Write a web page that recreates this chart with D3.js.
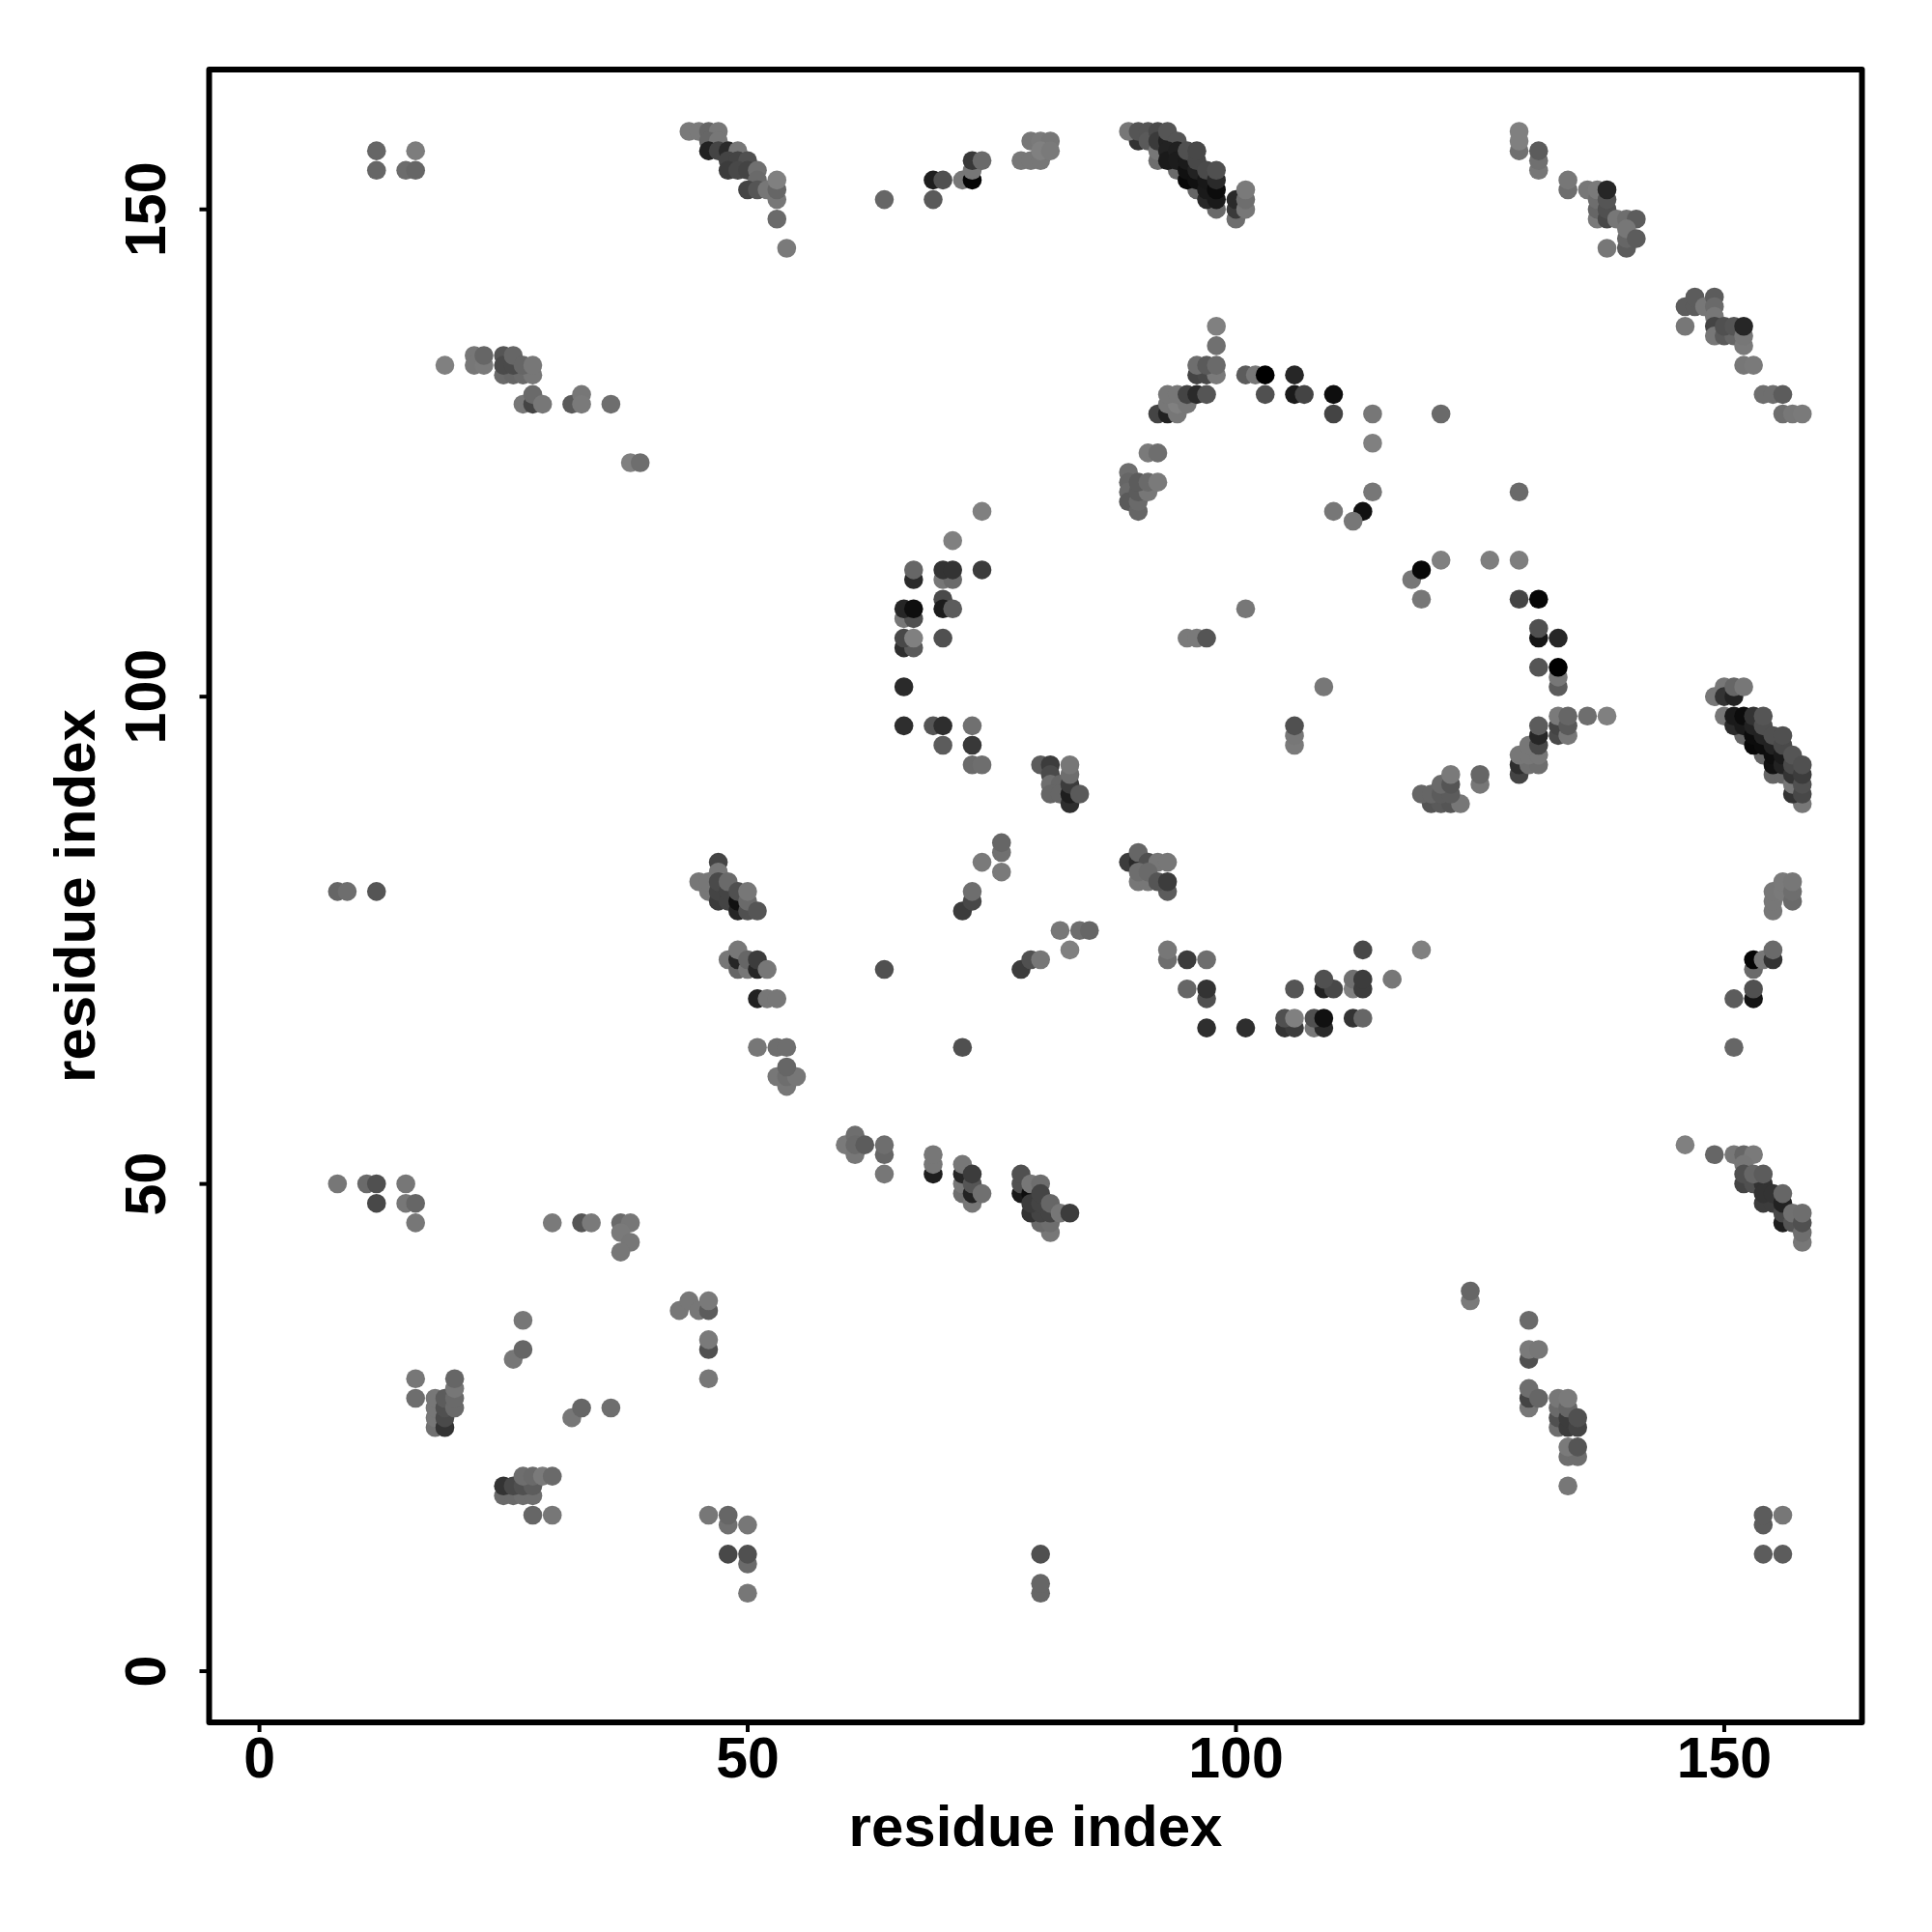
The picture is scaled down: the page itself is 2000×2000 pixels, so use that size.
<!DOCTYPE html>
<html><head><meta charset="utf-8"><style>html,body{margin:0;background:#fff}svg{display:block}text{font-family:"Liberation Sans",Arial,sans-serif;font-weight:bold;fill:#000}</style>
<script src="https://cdn.jsdelivr.net/npm/d3@7/dist/d3.min.js"></script></head><body><svg id="c" width="2000" height="2000"></svg>
<script>
const xTicks=[0,50,100,150], yTicks=[0,50,100,150], axisTitle="residue index";
// each contact: [residue i, residue j, grey level]
const topLeft=[[12,156,0x66],[16,156,0x7d],[12,154,0x66],[15,154,0x6c],[16,154,0x66]];
const strandA=[[44,158,0x7a],[45,158,0x7a],[46,158,0x66],[47,158,0x77],[46,157,0x66],[47,157,0x77],[46,156,0x22],[47,156,0x44],[48,156,0x2a],[49,156,0x77],[48,155,0x44],[49,155,0x44],[50,155,0x50],[48,154,0x3c],[49,154,0x48],[50,154,0x44],[51,154,0x70],[51,153,0x6a],[50,152,0x44],[51,152,0x55],[52,152,0x77],[53,151,0x77],[53,152,0x66],[53,153,0x80],[53,149,0x6a],[54,146,0x7a]];
const helixA=[[19,134,0x80],[22,135,0x77],[22,134,0x77],[23,134,0x7a],[23,135,0x66],[25,133,0x6a],[26,133,0x66],[27,133,0x6a],[28,133,0x77],[25,135,0x55],[25,134,0x4a],[26,134,0x4a],[26,135,0x66],[27,134,0x66],[28,134,0x77],[27,130,0x77],[28,130,0x44],[28,131,0x6a],[29,130,0x77],[32,130,0x5a],[33,131,0x77],[33,130,0x7a],[36,130,0x6e],[38,124,0x80],[39,124,0x6e]];
const topMiddle=[[64,151,0x66],[69,151,0x5a],[69,153,0x1e],[70,153,0x50],[72,153,0x77],[73,153,0x05],[73,154,0x77],[73,155,0x38],[74,155,0x6a],[78,155,0x77],[79,155,0x77],[80,155,0x77],[79,157,0x77],[80,157,0x7a],[81,157,0x77],[80,156,0x80],[81,156,0x7a]];
const strandB=[[90,157,0x33],[89,158,0x77],[90,158,0x55],[91,158,0x55],[91,157,0x5a],[92,155,0x6e],[92,156,0x77],[92,158,0x4a],[92,157,0x3a],[93,157,0x22],[93,158,0x55],[94,154,0x6a],[94,157,0x55],[93,156,0x22],[93,155,0x1a],[94,156,0x20],[94,155,0x1c],[96,152,0x66],[95,153,0x08],[95,154,0x11],[95,155,0x1a],[95,156,0x50],[96,153,0x11],[96,154,0x22],[96,155,0x48],[96,156,0x48],[98,150,0x6a],[97,151,0x28],[97,152,0x1a],[97,153,0x18],[97,154,0x4a],[98,151,0x1a],[98,152,0x0c],[98,153,0x2a],[98,154,0x50],[100,149,0x6e],[100,150,0x3a],[100,151,0x2a],[101,150,0x77],[101,151,0x6e],[101,152,0x7a]];
const ringTop=[[98,138,0x80],[98,136,0x70],[96,133,0x44],[97,133,0x48],[98,133,0x7a],[96,134,0x6e],[97,134,0x5a],[98,134,0x6a],[101,133,0x5c],[102,133,0x77],[103,133,0x00],[106,133,0x26],[103,131,0x50],[106,131,0x1a],[107,131,0x44],[110,131,0x0e],[110,129,0x44],[114,129,0x77],[114,126,0x80],[121,129,0x6a],[114,121,0x77],[113,119,0x11],[112,118,0x77],[110,119,0x77],[129,121,0x6a],[92,129,0x44],[93,129,0x22],[94,129,0x77],[93,130,0x77],[94,130,0x80],[95,130,0x77],[93,131,0x77],[94,131,0x77],[95,131,0x44],[96,131,0x2a],[97,131,0x55],[91,125,0x7a],[92,125,0x6e]];
const ringLeft=[[89,123,0x6e],[89,122,0x66],[89,121,0x6a],[89,120,0x5a],[90,119,0x66],[90,120,0x6a],[90,121,0x5c],[91,121,0x77],[90,122,0x5c],[91,122,0x6a],[92,122,0x7a],[74,119,0x80],[71,116,0x80],[67,112,0x2a],[67,113,0x66],[70,112,0x77],[71,112,0x6a],[70,113,0x33],[71,113,0x33],[74,113,0x3c],[70,110,0x4a],[70,109,0x1c],[71,109,0x5c],[66,108,0x77],[67,108,0x50],[66,109,0x26],[67,109,0x0e],[66,105,0x2e],[67,105,0x5a],[66,106,0x48],[67,106,0x80],[70,106,0x50],[66,101,0x2a],[66,97,0x2e],[69,97,0x55],[70,97,0x2e],[73,97,0x70],[70,95,0x5c],[73,95,0x38],[73,93,0x6a],[74,93,0x6e],[101,109,0x77],[95,106,0x7a],[96,106,0x7a],[97,106,0x55],[109,101,0x77],[106,95,0x7a],[106,96,0x77],[106,97,0x50]];
const ringLower=[[80,93,0x5c],[81,93,0x3c],[81,92,0x4a],[81,91,0x6e],[82,91,0x66],[81,90,0x66],[82,90,0x66],[83,89,0x2e],[83,90,0x1e],[83,91,0x3c],[83,92,0x6e],[83,93,0x77],[84,90,0x5a]];
const ringRight=[[121,114,0x80],[118,112,0x77],[119,113,0x08],[119,110,0x77],[126,114,0x7e],[129,114,0x7e],[129,110,0x44],[131,110,0x06],[131,106,0x14],[131,107,0x50],[133,106,0x26],[131,103,0x55],[133,101,0x5c],[133,102,0x77],[133,103,0x00],[133,96,0x4a],[133,97,0x44],[133,98,0x7a],[134,96,0x77],[134,97,0x5a],[134,98,0x66],[136,98,0x6e],[138,98,0x80],[129,92,0x44],[129,93,0x2e],[130,93,0x70],[131,93,0x6e],[129,94,0x77],[130,94,0x77],[131,94,0x77],[130,95,0x77],[131,95,0x48],[131,96,0x26],[131,97,0x5c],[125,91,0x77],[125,92,0x66],[120,89,0x55],[121,89,0x5a],[122,89,0x55],[123,89,0x77],[119,90,0x66],[120,90,0x66],[121,90,0x5c],[122,90,0x5c],[121,91,0x6a],[122,91,0x55],[122,92,0x7a]];
const strandC=[[149,100,0x77],[150,101,0x77],[150,100,0x33],[151,100,0x22],[151,101,0x66],[152,101,0x77],[150,98,0x77],[152,96,0x66],[151,97,0x2a],[151,98,0x1a],[152,97,0x1a],[152,98,0x0c],[154,94,0x66],[153,95,0x08],[153,96,0x0c],[153,97,0x22],[153,98,0x33],[154,95,0x0c],[154,96,0x22],[154,97,0x50],[154,98,0x55],[155,92,0x66],[156,92,0x66],[155,93,0x11],[155,94,0x0e],[155,95,0x22],[155,96,0x50],[156,93,0x22],[156,94,0x1a],[156,95,0x4a],[156,96,0x50],[158,89,0x77],[157,90,0x33],[157,91,0x77],[157,92,0x33],[157,93,0x4a],[157,94,0x55],[158,90,0x48],[158,91,0x50],[158,92,0x3c],[158,93,0x50]];
const midLeft=[[8,80,0x66],[9,80,0x6e],[12,80,0x55],[45,81,0x77],[46,80,0x77],[46,81,0x77],[47,83,0x44],[47,82,0x77],[47,79,0x3c],[47,80,0x44],[47,81,0x4a],[48,79,0x44],[48,80,0x44],[48,81,0x6a],[49,78,0x26],[49,79,0x11],[49,80,0x50],[50,78,0x50],[50,79,0x6a],[50,80,0x77],[51,78,0x55],[48,73,0x77],[49,72,0x66],[49,73,0x26],[49,74,0x77],[50,72,0x77],[50,73,0x66],[51,72,0x26],[51,73,0x3c],[52,72,0x77],[51,69,0x22],[52,69,0x77],[53,69,0x77],[51,64,0x77],[53,64,0x6e],[54,64,0x6e],[53,61,0x77],[54,60,0x77],[54,61,0x6e],[55,61,0x77],[54,62,0x66]];
const midCentre=[[64,72,0x50],[76,84,0x70],[76,85,0x66],[74,83,0x7a],[76,82,0x7a],[72,78,0x3c],[73,79,0x48],[73,80,0x6e],[72,64,0x50],[78,72,0x3c],[79,73,0x50],[80,73,0x77],[82,76,0x77],[84,76,0x6e],[85,76,0x66],[83,74,0x80]];
const ringBottom=[[89,83,0x3c],[90,83,0x2a],[90,84,0x66],[91,83,0x50],[92,83,0x77],[93,83,0x77],[90,81,0x77],[91,81,0x77],[90,82,0x6e],[91,82,0x6a],[93,80,0x5c],[92,81,0x55],[93,81,0x3c],[93,73,0x6e],[93,74,0x77],[95,73,0x3c],[97,73,0x6e],[95,70,0x66],[97,69,0x50],[97,70,0x33],[97,66,0x2e],[101,66,0x2e],[105,66,0x33],[106,66,0x3c],[105,67,0x50],[106,67,0x80],[106,70,0x55],[108,66,0x77],[109,66,0x2a],[108,67,0x50],[109,67,0x11],[109,70,0x22],[110,70,0x48],[109,71,0x50],[112,70,0x80],[112,71,0x70],[113,70,0x3c],[113,71,0x3c],[112,67,0x33],[113,67,0x66],[113,74,0x48],[116,71,0x77],[119,74,0x80]];
const midRight=[[155,78,0x77],[155,79,0x77],[155,80,0x77],[156,80,0x7a],[156,81,0x7a],[157,79,0x6a],[157,80,0x6e],[157,81,0x77],[153,72,0x6a],[153,73,0x05],[154,73,0x77],[155,73,0x33],[155,74,0x6a],[153,69,0x14],[153,70,0x50],[151,69,0x5c],[151,64,0x66]];
const lowerLeft=[[8,50,0x77],[11,50,0x6a],[12,50,0x50],[15,50,0x77],[12,48,0x48],[15,48,0x77],[16,48,0x66],[16,46,0x77],[30,46,0x7a],[33,46,0x55],[34,46,0x7a],[37,46,0x6a],[38,46,0x77],[37,45,0x7a],[38,44,0x77],[37,43,0x77],[43,37,0x77],[44,38,0x77],[45,37,0x77],[46,37,0x5c],[46,38,0x7a],[46,33,0x50],[46,34,0x7a],[46,30,0x77],[27,36,0x77],[26,32,0x77],[27,33,0x66],[16,30,0x77],[16,28,0x6e],[18,25,0x70],[18,26,0x77],[18,27,0x77],[18,28,0x77],[19,25,0x33],[19,26,0x4a],[19,27,0x50],[19,28,0x5c],[20,27,0x6a],[20,28,0x6a],[20,29,0x77],[20,30,0x66],[32,26,0x77],[33,27,0x66],[36,27,0x6e],[25,18,0x6a],[26,18,0x6a],[27,18,0x6e],[28,18,0x6e],[25,19,0x33],[26,19,0x48],[27,19,0x50],[28,19,0x5c],[27,20,0x6e],[28,20,0x6a],[29,20,0x7a],[30,20,0x6a],[28,16,0x66],[30,16,0x77],[46,16,0x77],[48,15,0x70],[48,16,0x66],[50,15,0x77],[48,12,0x48],[50,11,0x6a],[50,12,0x50],[50,8,0x77]];
const lowerMiddle=[[60,54,0x7a],[61,53,0x77],[61,55,0x6e],[61,54,0x6a],[62,54,0x5c],[64,53,0x66],[64,54,0x6e],[64,51,0x77],[69,51,0x1e],[69,52,0x77],[69,53,0x77],[72,49,0x6e],[72,50,0x77],[72,51,0x26],[72,52,0x77],[73,48,0x77],[73,49,0x22],[73,50,0x55],[73,51,0x3c],[74,49,0x70],[78,49,0x1a],[78,50,0x50],[78,51,0x50],[79,49,0x0e],[79,50,0x77],[80,50,0x6e],[81,45,0x77],[80,46,0x6a],[81,46,0x6e],[79,47,0x33],[80,47,0x44],[79,48,0x3c],[80,48,0x44],[80,49,0x44],[81,47,0x44],[81,48,0x66],[82,47,0x77],[83,47,0x3c],[80,8,0x66],[80,9,0x66],[80,12,0x50]];
const lowerRight=[[146,54,0x80],[149,53,0x66],[151,53,0x77],[152,53,0x66],[153,53,0x7a],[152,52,0x77],[152,50,0x44],[153,50,0x50],[154,50,0x33],[152,51,0x50],[153,51,0x66],[154,51,0x5c],[154,48,0x3c],[155,48,0x3c],[154,49,0x33],[155,49,0x33],[156,46,0x1e],[156,47,0x48],[156,48,0x22],[156,49,0x66],[157,46,0x55],[157,47,0x70],[158,44,0x77],[158,45,0x6e],[158,46,0x50],[158,47,0x6e]];
const bottomRight=[[124,38,0x7a],[124,39,0x66],[130,36,0x6a],[130,32,0x50],[130,33,0x7a],[131,33,0x77],[130,27,0x77],[130,28,0x44],[130,29,0x6e],[131,28,0x66],[133,25,0x6e],[133,26,0x50],[133,27,0x6a],[133,28,0x77],[134,25,0x3c],[134,26,0x3c],[134,27,0x66],[134,28,0x7a],[135,25,0x44],[135,26,0x50],[134,22,0x6e],[135,22,0x6e],[134,23,0x7a],[135,23,0x55],[134,19,0x77],[154,15,0x5c],[154,16,0x5c],[156,16,0x77],[154,12,0x5c],[156,12,0x5c]];
const upperRight=[[129,156,0x70],[129,157,0x80],[129,158,0x80],[131,154,0x77],[131,155,0x70],[131,156,0x5c],[134,152,0x6e],[134,153,0x77],[136,152,0x77],[137,149,0x7a],[137,150,0x66],[137,151,0x6e],[137,152,0x7a],[138,149,0x48],[138,150,0x50],[138,151,0x55],[138,152,0x26],[139,149,0x77],[140,149,0x6e],[141,149,0x5c],[138,146,0x77],[140,146,0x5c],[140,147,0x66],[140,148,0x77],[141,147,0x5c],[146,140,0x5c],[147,140,0x5c],[147,141,0x5c],[148,140,0x77],[149,141,0x5c],[149,140,0x6a],[149,139,0x77],[146,138,0x77],[149,138,0x44],[149,137,0x77],[150,137,0x5a],[151,137,0x66],[150,138,0x50],[151,138,0x55],[152,136,0x7a],[152,137,0x77],[152,138,0x26],[152,134,0x77],[153,134,0x7a],[154,131,0x6e],[155,131,0x6e],[156,131,0x5c],[156,129,0x6e],[157,129,0x77],[158,129,0x7a]];
const contacts=[topLeft,strandA,helixA,topMiddle,strandB,ringTop,ringLeft,ringLower,ringRight,strandC,midLeft,midCentre,ringBottom,midRight,lowerLeft,lowerMiddle,lowerRight,bottomRight,upperRight].flat();

const box={l:216.5,r:1927.5,t:72,b:1783};
const x=d3.scaleLinear().domain([-5.1,164.15]).range([box.l,box.r]);
const y=d3.scaleLinear().domain([-5.3,164.3]).range([box.b,box.t]);
const svg=d3.select("#c");
svg.append("g").selectAll("circle").data(contacts).join("circle")
  .attr("cx",d=>x(d[0])+0.4).attr("cy",d=>y(d[1])+0.4).attr("r",9.8)
  .attr("fill",d=>d3.rgb(d[2],d[2],d[2]));
svg.append("rect").attr("x",box.l).attr("y",box.t).attr("width",box.r-box.l).attr("height",box.b-box.t)
  .attr("fill","none").attr("stroke","#000").attr("stroke-width",6).attr("stroke-linejoin","round");
const ax=svg.append("g").attr("transform",`translate(0,${box.b})`).call(d3.axisBottom(x).tickValues(xTicks).tickSize(10).tickFormat(d3.format("d")));
ax.select(".domain").remove();
ax.selectAll("line").attr("stroke","#000").attr("stroke-width",4);
ax.selectAll("text").attr("font-size",59).attr("y",1840-box.b).attr("dy",0).attr("fill","#000");
const ay=svg.append("g").attr("transform",`translate(${box.l},0)`).call(d3.axisLeft(y).tickValues(yTicks).tickSize(10).tickFormat(d3.format("d")));
ay.select(".domain").remove();
ay.selectAll("line").attr("stroke","#000").attr("stroke-width",4);
ay.selectAll("text").attr("font-size",59).attr("fill","#000").attr("dy",0).attr("x",0).attr("text-anchor","middle")
  .attr("transform",`translate(${171-box.l},0) rotate(-90)`);
svg.selectAll("g").attr("font-family",null);
svg.append("text").attr("x",(box.l+box.r)/2).attr("y",1911).attr("text-anchor","middle").attr("font-size",60).text(axisTitle);
svg.append("text").attr("transform",`translate(98,${(box.t+box.b)/2}) rotate(-90)`).attr("text-anchor","middle").attr("font-size",60).text(axisTitle);
</script></body></html>
